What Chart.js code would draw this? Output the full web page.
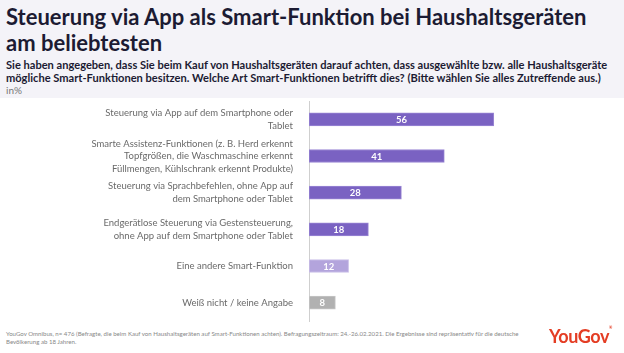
<!DOCTYPE html>
<html>
<head>
<meta charset="utf-8">
<script src="https://cdn.jsdelivr.net/npm/chart.js@4"></script>
<style>
  html, body { margin: 0; padding: 0; background: #fff; }
  body { width: 624px; height: 353px; overflow: hidden; position: relative; font-family: Lato, "Open Sans", sans-serif; }
  .head { position: absolute; left: 0; top: 0; width: 624px; height: 98px; background: #f4f3f8; }
  .title { position: absolute; left: 6px; top: 4px; width: 618px; font-size: 22px; line-height: 26px; font-weight: 700; color: #1c1b33; white-space: nowrap; }
  .sub { position: absolute; left: 6px; top: 59px; width: 618px; font-size: 11.1px; line-height: 12.5px; font-weight: 700; color: #1c1b33; white-space: nowrap; }
  .unit { position: absolute; left: 6px; top: 84px; font-size: 10px; color: #777; }
  .chartbox { position: absolute; left: 0; top: 98px; width: 624px; height: 228px; }
  .foot { position: absolute; left: 6px; top: 330px; width: 520px; font-size: 6.1px; line-height: 8px; color: #888; white-space: nowrap; }
  .logo { position: absolute; left: 549px; top: 325px; font-size: 18px; font-weight: 700; color: #e43d24; letter-spacing: -0.4px; }
  .logo sup { font-size: 4px; vertical-align: top; }
</style>
</head>
<body>
<div class="head">
  <div class="title">Steuerung via App als Smart-Funktion bei Haushaltsgeräten<br>am beliebtesten</div>
  <div class="sub">Sie haben angegeben, dass Sie beim Kauf von Haushaltsgeräten darauf achten, dass ausgewählte bzw. alle Haushaltsgeräte<br>mögliche Smart-Funktionen besitzen. Welche Art Smart-Funktionen betrifft dies? (Bitte wählen Sie alles Zutreffende aus.)</div>
  <div class="unit">in%</div>
</div>
<div class="chartbox"><canvas id="chart"></canvas></div>
<div class="foot">YouGov Omnibus, n= 476 (Befragte, die beim Kauf von Haushaltsgeräten auf Smart-Funktionen achten). Befragungszeitraum: 24.-26.02.2021. Die Ergebnisse sind repräsentativ für die deutsche<br>Bevölkerung ab 18 Jahren.</div>
<div class="logo">YouGov<sup>®</sup></div>
<script>
const categories = [
    ['Steuerung via App auf dem Smartphone oder', 'Tablet'],
    ['Smarte Assistenz-Funktionen (z. B. Herd erkennt', 'Topfgrößen, die Waschmaschine erkennt', 'Füllmengen, Kühlschrank erkennt Produkte)'],
    ['Steuerung via Sprachbefehlen, ohne App auf', 'dem Smartphone oder Tablet'],
    ['Endgerätlose Steuerung via Gestensteuerung,', 'ohne App auf dem Smartphone oder Tablet'],
    'Eine andere Smart-Funktion',
    'Weiß nicht / keine Angabe'
];
const values = [56, 41, 28, 18, 12, 8];
const barColors = ['#7a62c2', '#7a62c2', '#7a62c2', '#7a62c2', '#b3a4dc', '#b1b1b1'];
const borderColors = ['#9a87d4', '#9a87d4', '#9a87d4', '#9a87d4', '#cbc0e8', '#c6c6c6'];

// white value labels inside the bars
const valueLabels = {
    id: 'valueLabels',
    afterDatasetsDraw(chart) {
        const ctx = chart.ctx;
        const meta = chart.getDatasetMeta(0);
        ctx.save();
        ctx.fillStyle = '#fff';
        ctx.font = 'bold 9.5px Lato, sans-serif';
        ctx.textAlign = 'center';
        ctx.textBaseline = 'middle';
        meta.data.forEach((bar, i) => {
            const x = (bar.base + bar.x) / 2;
            ctx.fillText(values[i], x, bar.y + 0.5);
        });
        ctx.restore();
    }
};

const data = {
    labels: categories,
    datasets: [{
        data: values,
        backgroundColor: barColors,
        borderColor: borderColors,
        borderWidth: 1,
        borderSkipped: false,
        barThickness: 13
    }]
};
const options = {
    indexAxis: 'y',
    responsive: true,
    maintainAspectRatio: false,
    animation: false,
    layout: { padding: { top: 3, bottom: 5, left: 0, right: 18 } },
    plugins: { legend: { display: false }, tooltip: { enabled: false } },
    scales: {
        x: {
            min: 0,
            max: 90,
            display: false,
            grid: { display: false }
        },
        y: {
            afterFit(scale) {
                scale.width = 309;
                scale.paddingTop = 0;
                scale.paddingBottom = 0;
            },
            grid: { display: false, drawTicks: false },
            border: { display: true, color: '#cfcfcf', width: 1 },
            ticks: {
                autoSkip: false,
                color: '#6a6a6a',
                padding: 16,
                font: { family: 'Lato, sans-serif', size: 9.5, lineHeight: 1.32 }
            }
        }
    }
};
const config = {
    type: 'bar',
    data: data,
    options: options,
    plugins: [valueLabels]
};
const chart = new Chart(document.getElementById('chart'), config);
</script>
</body>
</html>
